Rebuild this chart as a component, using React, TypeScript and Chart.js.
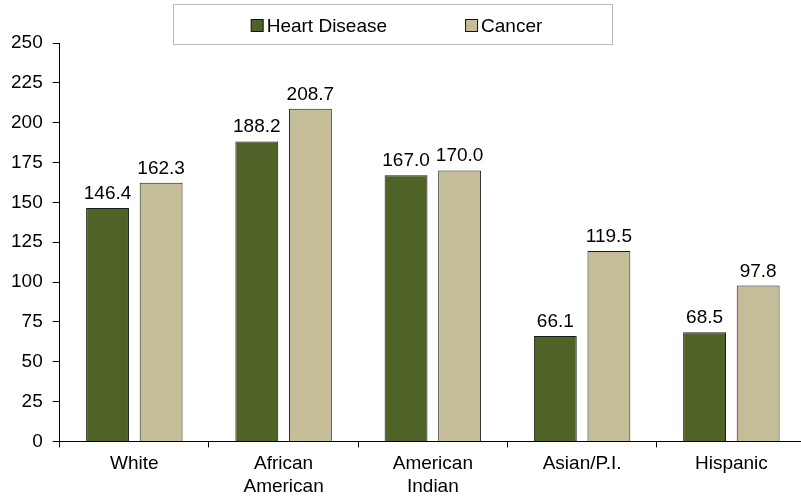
import React, { useEffect, useRef } from "react";
import { Chart, registerables } from "chart.js";

Chart.register(...registerables);

const categories: string[][] = [
  ["White"],
  ["African", "American"],
  ["American", "Indian"],
  ["Asian/P.I."],
  ["Hispanic"],
];
const heartDisease = [146.4, 188.2, 167.0, 66.1, 68.5];
const cancer = [162.3, 208.7, 170.0, 119.5, 97.8];
const seriesNames = ["Heart Disease", "Cancer"];
const seriesColors = ["#4F6228", "#C4BD97"];
const yMin = 0;
const yMax = 250;
const yStep = 25;

const FONT_FAMILY = '"Liberation Sans", Arial, Helvetica, sans-serif';
const FONT_SIZE = 19;

const valueLabels = {
  id: "valueLabels",
  afterDatasetsDraw(chart: any) {
    const ctx = chart.ctx;
    ctx.save();
    ctx.font = `${FONT_SIZE}px ${FONT_FAMILY}`;
    ctx.fillStyle = "#000";
    ctx.textAlign = "center";
    ctx.textBaseline = "alphabetic";
    chart.data.datasets.forEach((ds: any, i: number) => {
      const meta = chart.getDatasetMeta(i);
      meta.data.forEach((bar: any, j: number) => {
        const v = ds.data[j] as number;
        ctx.fillText(v.toFixed(1), bar.x, bar.y - 9);
      });
    });
    ctx.restore();
  },
};

const boxedLegend = {
  id: "boxedLegend",
  afterDraw(chart: any) {
    const ctx = chart.ctx;
    ctx.save();
    ctx.font = `${FONT_SIZE}px ${FONT_FAMILY}`;
    const box = 13;
    const gapText = 3;
    const gapItem = 78;
    const items = chart.data.datasets.map((ds: any) => ({
      label: ds.label as string,
      color: ds.backgroundColor as string,
      w: ctx.measureText(ds.label).width,
    }));
    const total =
      items.reduce((s: number, it: any) => s + box + gapText + it.w, 0) +
      gapItem * (items.length - 1);
    const frame = { x: 173.5, y: 4.5, w: 439, h: 40 };
    ctx.strokeStyle = "#BBBBBB";
    ctx.lineWidth = 1;
    ctx.strokeRect(frame.x, frame.y, frame.w, frame.h);
    const cy = 26;
    let x = 396.5 - total / 2;
    items.forEach((it: any) => {
      ctx.fillStyle = it.color;
      ctx.fillRect(x + 0.5, cy - 6.5, box - 1, box - 1);
      ctx.strokeStyle = "#111";
      ctx.strokeRect(x + 0.5, cy - 6.5, box - 1, box - 1);
      ctx.fillStyle = "#000";
      ctx.textBaseline = "middle";
      ctx.textAlign = "left";
      ctx.fillText(it.label, x + box + gapText, cy + 1);
      x += box + gapText + it.w + gapItem;
    });
    ctx.restore();
  },
};

export default function App() {
  const ref = useRef<HTMLCanvasElement | null>(null);
  useEffect(() => {
    if (!ref.current) return;
    const chart = new Chart(ref.current, {
      type: "bar",
      data: {
        labels: categories,
        datasets: [
          {
            label: seriesNames[0],
            data: heartDisease,
            backgroundColor: seriesColors[0],
            borderColor: "#1a1a1a",
            borderWidth: 1,
          },
          {
            label: seriesNames[1],
            data: cancer,
            backgroundColor: seriesColors[1],
            borderColor: "#1a1a1a",
            borderWidth: 1,
          },
        ],
      },
      options: {
        responsive: false,
        animation: false,
        layout: { padding: { top: 43, left: 1, right: 0, bottom: -7 } },
        datasets: {
          bar: { categoryPercentage: 0.718, barPercentage: 0.8 },
        } as any,
        plugins: {
          legend: { display: false },
          tooltip: { enabled: false },
        },
        scales: {
          x: {
            grid: {
              offset: true,
              drawOnChartArea: false,
              drawTicks: true,
              tickLength: 6,
              color: "#000",
            },
            border: { display: true, color: "#000", width: 1 },
            ticks: {
              color: "#000",
              font: { family: FONT_FAMILY, size: FONT_SIZE, lineHeight: 1.2 },
              padding: 5,
              maxRotation: 0,
              autoSkip: false,
            },
          },
          y: {
            min: yMin,
            max: yMax,
            grid: {
              drawOnChartArea: false,
              drawTicks: true,
              tickLength: 7,
              color: "#000",
            },
            border: { display: true, color: "#000", width: 1 },
            ticks: {
              stepSize: yStep,
              color: "#000",
              font: { family: FONT_FAMILY, size: FONT_SIZE },
              padding: 10,
            },
          },
        },
      },
      plugins: [valueLabels, boxedLegend],
    });
    return () => chart.destroy();
  }, []);
  return (
    <div
      style={{
        position: "fixed",
        left: 0,
        top: 0,
        width: 801,
        height: 496,
        overflow: "hidden",
        background: "#fff",
      }}
    >
      <canvas ref={ref} width={806} height={496} style={{ display: "block" }} />
    </div>
  );
}
